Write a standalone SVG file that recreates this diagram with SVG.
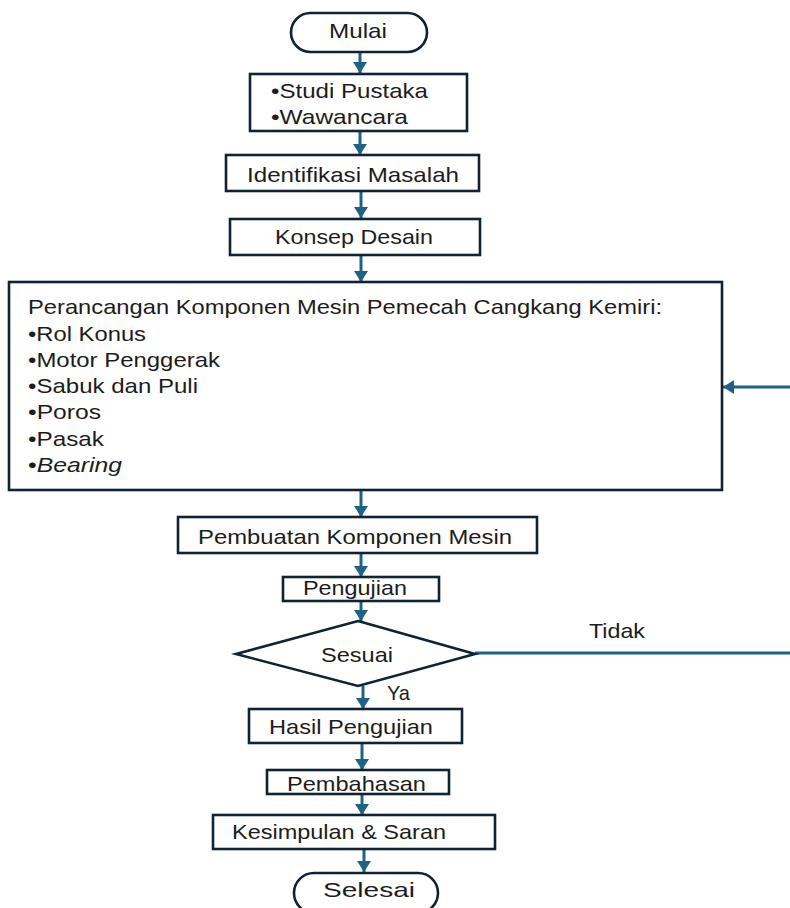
<svg xmlns="http://www.w3.org/2000/svg" width="790" height="908" viewBox="0 0 790 908">
<style>
.box{fill:#fff;stroke:#0f2430;stroke-width:2.6}
.t{font-family:"Liberation Sans",Arial,sans-serif;font-size:21px;fill:#1c1c1c}
.ln{stroke:#1e6386;stroke-width:3;fill:none}
</style>
<defs>
<marker id="ah" markerUnits="userSpaceOnUse" markerWidth="14" markerHeight="14" refX="11" refY="7" orient="auto">
<path d="M0,0 L11,7 L0,14 Z" fill="#1e6386"/>
</marker>
</defs>
<rect width="790" height="908" fill="#fff"/>
<g id="connectors">
<line class="ln" x1="360" y1="53" x2="360" y2="73" marker-end="url(#ah)"/>
<line class="ln" x1="360" y1="131" x2="360" y2="155" marker-end="url(#ah)"/>
<line class="ln" x1="361" y1="191" x2="361" y2="218" marker-end="url(#ah)"/>
<line class="ln" x1="361" y1="255" x2="361" y2="282" marker-end="url(#ah)"/>
<line class="ln" x1="361" y1="490" x2="361" y2="517" marker-end="url(#ah)"/>
<line class="ln" x1="361" y1="553" x2="361" y2="577" marker-end="url(#ah)"/>
<line class="ln" x1="361" y1="601" x2="361" y2="621" marker-end="url(#ah)"/>
<line class="ln" x1="363" y1="686" x2="363" y2="709" marker-end="url(#ah)"/>
<line class="ln" x1="362" y1="743" x2="362" y2="770" marker-end="url(#ah)"/>
<line class="ln" x1="362" y1="794" x2="362" y2="815" marker-end="url(#ah)"/>
<line class="ln" x1="364" y1="849" x2="364" y2="872" marker-end="url(#ah)"/>
<line class="ln" x1="475" y1="653" x2="790" y2="653"/>
<line class="ln" x1="790" y1="387" x2="723" y2="387" marker-end="url(#ah)"/>
<text class="t" x="589" y="638" textLength="56" lengthAdjust="spacingAndGlyphs">Tidak</text>
<text class="t" x="387" y="700" textLength="23" lengthAdjust="spacingAndGlyphs">Ya</text>
</g>
<g id="mulai">
<rect class="box" x="291" y="13" width="136" height="39" rx="19.5"/>
<text class="t" x="329" y="38" textLength="58" lengthAdjust="spacingAndGlyphs">Mulai</text>
</g>
<g id="studi">
<rect class="box" x="250" y="74" width="217" height="57"/>
<text class="t" x="271" y="98" textLength="157" lengthAdjust="spacingAndGlyphs">•Studi Pustaka</text>
<text class="t" x="271" y="124" textLength="137" lengthAdjust="spacingAndGlyphs">•Wawancara</text>
</g>
<g id="identifikasi">
<rect class="box" x="226" y="155" width="253" height="36"/>
<text class="t" x="247" y="182" textLength="212" lengthAdjust="spacingAndGlyphs">Identifikasi Masalah</text>
</g>
<g id="konsep">
<rect class="box" x="230" y="219" width="250" height="36"/>
<text class="t" x="275" y="244" textLength="158" lengthAdjust="spacingAndGlyphs">Konsep Desain</text>
</g>
<g id="perancangan">
<rect class="box" x="9" y="282" width="713" height="208"/>
<text class="t" x="28" y="314" textLength="634" lengthAdjust="spacingAndGlyphs">Perancangan Komponen Mesin Pemecah Cangkang Kemiri:</text>
<text class="t" x="28" y="341" textLength="118" lengthAdjust="spacingAndGlyphs">•Rol Konus</text>
<text class="t" x="28" y="367" textLength="192" lengthAdjust="spacingAndGlyphs">•Motor Penggerak</text>
<text class="t" x="28" y="393" textLength="170" lengthAdjust="spacingAndGlyphs">•Sabuk dan Puli</text>
<text class="t" x="28" y="419" textLength="73" lengthAdjust="spacingAndGlyphs">•Poros</text>
<text class="t" x="28" y="446" textLength="76" lengthAdjust="spacingAndGlyphs">•Pasak</text>
<text class="t" x="28" y="472" textLength="94" lengthAdjust="spacingAndGlyphs">•<tspan font-style="italic">Bearing</tspan></text>
</g>
<g id="pembuatan">
<rect class="box" x="178" y="517" width="359" height="36"/>
<text class="t" x="198" y="544" textLength="314" lengthAdjust="spacingAndGlyphs">Pembuatan Komponen Mesin</text>
</g>
<g id="pengujian">
<rect class="box" x="283" y="577" width="156" height="24"/>
<text class="t" x="303" y="595" textLength="104" lengthAdjust="spacingAndGlyphs">Pengujian</text>
</g>
<g id="sesuai">
<polygon class="box" points="358,621 475,654 358,686 236,654"/>
<text class="t" x="321" y="662" textLength="72" lengthAdjust="spacingAndGlyphs">Sesuai</text>
</g>
<g id="hasil">
<rect class="box" x="249" y="709" width="213" height="34"/>
<text class="t" x="269" y="734" textLength="164" lengthAdjust="spacingAndGlyphs">Hasil Pengujian</text>
</g>
<g id="pembahasan">
<rect class="box" x="267" y="770" width="182" height="24"/>
<text class="t" x="287" y="791" textLength="139" lengthAdjust="spacingAndGlyphs">Pembahasan</text>
</g>
<g id="kesimpulan">
<rect class="box" x="213" y="815" width="282" height="34"/>
<text class="t" x="232" y="839" textLength="214" lengthAdjust="spacingAndGlyphs">Kesimpulan &amp; Saran</text>
</g>
<g id="selesai">
<rect class="box" x="294" y="873" width="144" height="40" rx="20"/>
<text class="t" x="323" y="897" textLength="92" lengthAdjust="spacingAndGlyphs">Selesai</text>
</g>
</svg>
